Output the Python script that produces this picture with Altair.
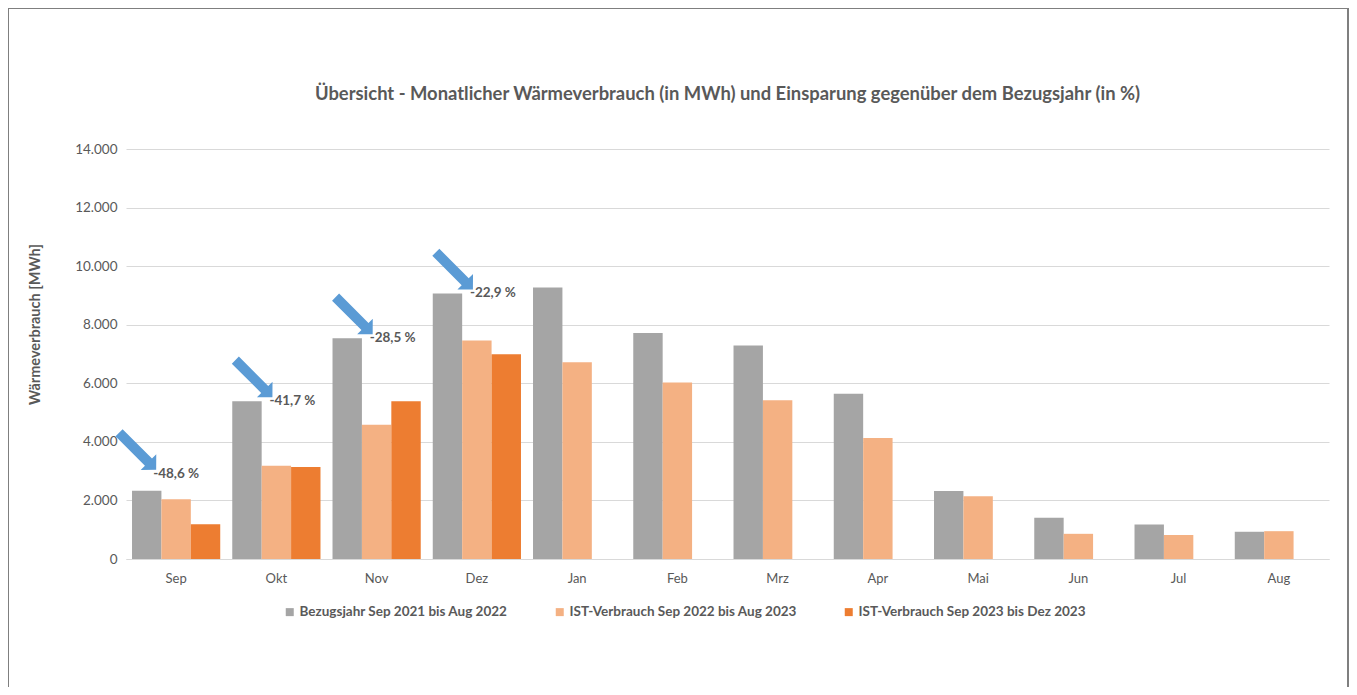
import altair as alt
import pandas as pd

months = ["Sep", "Okt", "Nov", "Dez", "Jan", "Feb", "Mrz", "Apr", "Mai", "Jun", "Jul", "Aug"]
series_names = [
    "Bezugsjahr Sep 2021 bis Aug 2022",
    "IST-Verbrauch Sep 2022 bis Aug 2023",
    "IST-Verbrauch Sep 2023 bis Dez 2023",
]
colors = ["#A5A5A5", "#F4B183", "#ED7D31"]

ref_2122 = [2330, 5390, 7540, 9070, 9270, 7720, 7290, 5640, 2320, 1410, 1180, 930]
ist_2223 = [2040, 3180, 4580, 7460, 6720, 6030, 5420, 4130, 2140, 860, 820, 950]
ist_2324 = [1190, 3140, 5390, 6990]
savings = ["-48,6 %", "-41,7 %", "-28,5 %", "-22,9 %"]
title_text = "Übersicht - Monatlicher Wärmeverbrauch (in MWh) und Einsparung gegenüber dem Bezugsjahr (in %)"

rows = []
for vals, name in zip([ref_2122, ist_2223, ist_2324], series_names):
    for m, v in zip(months, vals):
        rows.append({"month": m, "series": name, "value": v})
bars_df = pd.DataFrame(rows)

ann_df = pd.DataFrame({
    "month": months[:len(savings)],
    "ref": ref_2122[:len(savings)],
    "label": savings,
})

FONT = "Lato"
GREY_TXT = "#595959"
W = 1203
PAD_L, PAD_T, PAD_R, PAD_B = 118, 141, 20, 128

x_enc = alt.X(
    "month:N", sort=months,
    scale=alt.Scale(paddingInner=0.12, paddingOuter=0.06),
    axis=alt.Axis(title=None, labelAngle=0, ticks=False, domain=True,
                  domainColor="#d9d9d9", domainWidth=1, labelPadding=13,
                  labelFont=FONT, labelFontSize=13, labelColor=GREY_TXT),
)

bars = alt.Chart(bars_df).mark_bar().encode(
    x=x_enc,
    xOffset=alt.XOffset("series:N", sort=series_names,
                        scale=alt.Scale(domain=series_names, paddingInner=0, paddingOuter=0)),
    y=alt.Y(
        "value:Q",
        scale=alt.Scale(domain=[0, 14000], nice=False),
        axis=alt.Axis(
            values=[0, 2000, 4000, 6000, 8000, 10000, 12000, 14000],
            labelExpr="replace(format(datum.value, ','), ',', '.')",
            grid=True, gridColor="#d9d9d9", gridWidth=1,
            domain=False, ticks=False, labelPadding=9,
            labelFont=FONT, labelFontSize=13.5, labelColor=GREY_TXT,
            title="Wärmeverbrauch [MWh]", titleFont=FONT, titleFontSize=14.5,
            titleFontWeight="bold", titleColor=GREY_TXT,
            titleX=-84, titleY=175, titleAngle=-90,
        ),
    ),
    color=alt.Color(
        "series:N",
        scale=alt.Scale(domain=series_names, range=colors),
        legend=alt.Legend(
            orient="none", legendX=157, legendY=456, direction="horizontal",
            title=None, symbolType="square", symbolSize=64, symbolStrokeWidth=0,
            labelFont=FONT, labelFontSize=13.5, labelFontWeight="bold", labelLimit=400,
            labelColor=GREY_TXT, columnPadding=45, labelOffset=3,
        ),
    ),
)

arrow_path = "M -1 -0.19 L 0.585 -0.19 L 0.585 -0.42 L 1 0 L 0.585 0.42 L 0.585 0.19 L -1 0.19 Z"

ann_x = alt.X("month:N", sort=months)
ann_y = alt.Y("ref:Q")

sep_f = alt.datum.month == "Sep"
other_f = alt.datum.month != "Sep"

text_sep = alt.Chart(ann_df).transform_filter(sep_f).mark_text(
    align="left", baseline="middle", dx=-23, dy=-17, font=FONT, fontSize=13.5,
    fontWeight="bold", color=GREY_TXT,
).encode(x=ann_x, y=ann_y, text="label:N")

text_oth = alt.Chart(ann_df).transform_filter(other_f).mark_text(
    align="left", baseline="middle", dx=-7, dy=0, font=FONT, fontSize=13.5,
    fontWeight="bold", color=GREY_TXT,
).encode(x=ann_x, y=ann_y, text="label:N")

arrow_sep = alt.Chart(ann_df).transform_filter(sep_f).mark_point(
    shape=arrow_path, size=2750, angle=45, filled=True, fill="#5B9BD5",
    stroke=None, opacity=1, xOffset=-38.5, yOffset=-39.5,
).encode(x=ann_x, y=ann_y)

arrow_oth = alt.Chart(ann_df).transform_filter(other_f).mark_point(
    shape=arrow_path, size=2750, angle=45, filled=True, fill="#5B9BD5",
    stroke=None, opacity=1, xOffset=-22.5, yOffset=-22.5,
).encode(x=ann_x, y=ann_y)

one = pd.DataFrame({"t": [title_text]})

border = alt.Chart(one).mark_rect(
    fill=None, stroke="#7f7f7f", strokeWidth=2,
).encode(
    x=alt.value(-PAD_L), x2=alt.value(W + PAD_R - 1),
    y=alt.value(-PAD_T), y2=alt.value(700),
)

title = alt.Chart(one).mark_text(
    align="center", baseline="middle", font=FONT, fontSize=18.4, fontWeight="bold",
    color=GREY_TXT,
).encode(x=alt.value(W / 2), y=alt.value(-55), text="t:N")

chart = alt.layer(bars, arrow_sep, arrow_oth, text_sep, text_oth, border, title).properties(
    width=W,
    height=410,
    padding={"left": PAD_L, "top": PAD_T, "right": PAD_R, "bottom": PAD_B},
    autosize=alt.AutoSizeParams(type="none"),
).configure(background="white").configure_view(stroke=None)

chart.save("out.html", embed_options={"renderer": "svg", "actions": False})
